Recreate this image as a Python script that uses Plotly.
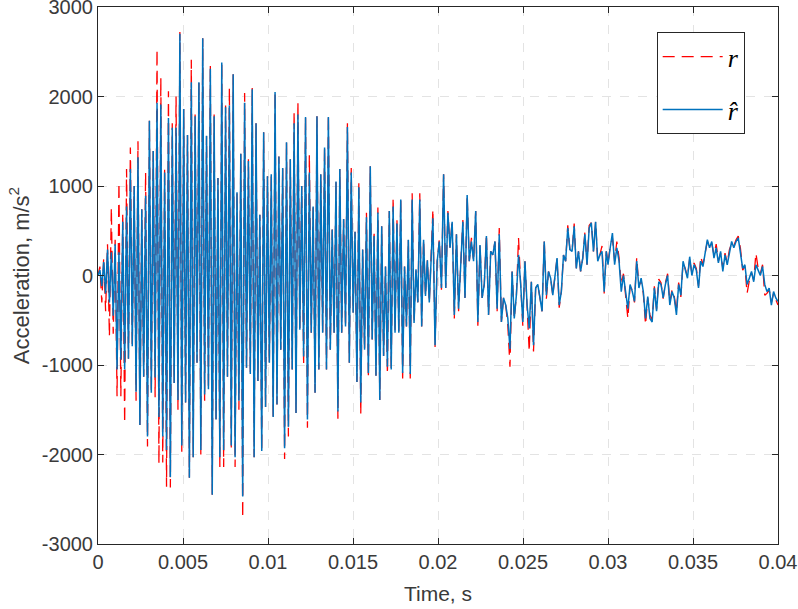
import numpy as np
import plotly.graph_objects as go

# ---------------- data ----------------
# Dense oscillating part: half-period sampling (peaks & troughs)
dt_dense = 0.000112
start_hat = [0, 60, -120, 150, -200]
start_r = [0, 100, -300, 200, -400]

peaks_hat = [290, 260, 350, 260, 600, 770, 1190, 1000, 1320, 740, 890, 1730, 1390, 1930, 1910,
             1150, 1760, 1650, 1650, 2700, 1860, 1570, 2160, 1780, 2160, 2650, 1560, 2310, 1780,
             1090, 2380, 1880, 1900, 2250, 930, 1360, 1930, 1280, 2080, 1700, 680, 1600, 1110,
             1130, 2050, 1330, 1200, 1490, 1300, 1700, 1800, 1000, 1770, 1150, 770, 1780, 1130,
             1430, 1770, 515, 1050, 1190, 630, 1660, 1150, 490, 985, 290, 650, 1220, 440, 705,
             550, 100, 720, 770, 580, 850, 100, 400, 850, 70, 850, 400, 170]
peaks_r = [350, 760, 400, 1040, 700, 1190, 1430, 1000, 1500, 740, 1150, 1730, 1390, 2530, 2210,
           1200, 2060, 1700, 2000, 2720, 1860, 1570, 2410, 1800, 2160, 2650, 1560, 2360, 1800,
           1090, 2380, 1900, 2100, 2250, 930, 1360, 2040, 1300, 2100, 1700, 680, 1600, 1110,
           1130, 2050, 1330, 1200, 1490, 1300, 1830, 1940, 1000, 1770, 1350, 770, 1780, 1130,
           1430, 1800, 515, 1050, 1190, 630, 1700, 1200, 490, 1050, 290, 700, 1220, 500, 760,
           550, 100, 720, 870, 640, 850, 100, 400, 920, 70, 920, 400, 170]
troughs_hat = [-300, -450, -1050, -940, -1050, -930, -790, -1300, -1670, -1130, -1800, -1310,
               -1140, -1580, -1800, -1950, -2250, -1200, -1390, -1900, -1420, -2260, -2030, -975,
               -1950, -1330, -1270, -2450, -1610, -2030, -1950, -1130, -1900, -2030, -1400, -2470,
               -1030, -1100, -2030, -1180, -1960, -1470, -975, -1580, -1440, -830, -1930, -1690,
               -1050, -1535, -605, -905, -1610, -640, -1310, -1050, -640, -1050, -830, -640, -1520,
               -640, -570, -975, -415, -1190, -1420, -830, -1090, -715, -1120, -1390, -900, -1020,
               -1050, -640, -640, -1090, -570, -1100, -530, -300, -570, -230, -300]
troughs_r = [-680, -650, -1350, -1350, -1650, -930, -790, -1400, -1670, -1130, -1910, -1310,
             -1360, -2100, -2090, -2360, -2370, -1200, -1500, -1970, -1420, -2260, -2030, -975,
             -2000, -1400, -1270, -2450, -1610, -2140, -2140, -1130, -1950, -2140, -1500, -2710,
             -1030, -1100, -2030, -1180, -1960, -1470, -975, -1580, -1440, -830, -2050, -1800,
             -1050, -1535, -605, -1000, -1700, -640, -1310, -1050, -640, -1050, -830, -640, -1600,
             -640, -570, -975, -415, -1190, -1550, -830, -1150, -715, -1120, -1390, -900, -1100,
             -1050, -640, -640, -1150, -570, -1150, -530, -300, -570, -230, -300]

# Slower tail, part A (0.0197 s .. 0.0299 s)
tailA_span = [0.0197, 0.0299]
tailA_hat = [640, -780, 160, 380, -140, 1130, -140, 700, 310, 600, -440, 460, -370, 120, 600,
             -250, 900, 160, 380, 160, 720, -520, 340, -250, -100, 440, -440, 270, 230, 380,
             -370, 460, -520, -250, -330, -480, -820, 45, -480, -220, 230, -100, -520, 160, -330,
             -590, -70, -780, -140, -100, -250, -400, 380, -220, 45, -30, -220, -30, 195, -330,
             -180, 230, 160, 530, 290, 270, 550, 80, 270, 45, 195, 460, 120, 530, 590, 270, 600,
             160, 230, 270, -180, 270]
tailA_r = [740, -800, 160, 400, -160, 1130, -140, 720, 310, 620, -480, 460, -400, 120, 620,
           -250, 900, 160, 420, 160, 720, -560, 340, -250, -100, 460, -440, 270, 230, 380,
           -400, 530, -520, -250, -330, -560, -1020, 45, -480, -220, 420, -100, -560, 160, -330,
           -850, -70, -850, -140, -100, -250, -400, 400, -260, 45, -30, -220, -30, 195, -360,
           -180, 230, 160, 560, 290, 270, 580, 80, 270, 45, 195, 480, 120, 560, 590, 270, 600,
           160, 230, 330, -200, 270]

# Slower tail, part B (0.0300 s .. 0.0400 s)
tailB_span = [0.0300, 0.0400]
tailB_hat = [120, 310, 475, 120, 310, 160, -180, 0, -180, -370, -100, -180, -290, 160, -140, -30,
             -180, -480, -235, -480, -520, -140, -400, -70, -100, -250, -100, 0, -330, -180, -250,
             -440, -100, -220, 160, 60, -30, 210, 0, 120, 60, -140, 160, 100, 230, 400, 310, 380,
             195, 310, 140, 270, 45, 230, 120, 270, 380, 310, 380, 420, 270, 80, 120, -100, -30,
             45, -70, 120, 60, 0, 100, -100, -180, -140, -330, -180, -250, -290]
tailB_r = [140, 330, 420, 160, 380, 200, -100, 20, -200, -480, -120, -160, -300, 200, -120, -60,
           -200, -550, -250, -440, -500, -120, -380, -40, -80, -260, -80, 20, -300, -160, -230,
           -400, -80, -240, 140, 80, -20, 190, 20, 140, 80, -120, 210, 120, 250, 380, 330, 360,
           230, 350, 160, 250, 80, 250, 140, 290, 360, 330, 400, 440, 300, 60, 100, -200, -60,
           30, -50, 250, 80, 20, 120, -220, -200, -160, -300, -200, -270, -330]

x_tickvals = [0, 0.005, 0.01, 0.015, 0.02, 0.025, 0.03, 0.035, 0.04]
x_ticktext = ["0", "0.005", "0.01", "0.015", "0.02", "0.025", "0.03", "0.035", "0.04"]
y_tickvals = [-3000, -2000, -1000, 0, 1000, 2000, 3000]
y_ticktext = ["-3000", "-2000", "-1000", "0", "1000", "2000", "3000"]


def build(start, peaks, troughs, tailA, tailB):
    dense = list(start)
    for p, q in zip(peaks, troughs):
        dense += [p, q]
    t1 = np.arange(len(dense)) * dt_dense
    t2 = np.linspace(tailA_span[0], tailA_span[1], len(tailA))
    t3 = np.linspace(tailB_span[0], tailB_span[1], len(tailB))
    t = np.concatenate([t1, t2, t3])
    v = np.concatenate([dense, tailA, tailB])
    return t, v


t_r, v_r = build(start_r, peaks_r, troughs_r, tailA_r, tailB_r)
t_h, v_h = build(start_hat, peaks_hat, troughs_hat, tailA_hat, tailB_hat)

AX = "#262626"
TXT = "#3a3a3a"

fig = go.Figure()
fig.add_trace(go.Scatter(x=t_r, y=v_r, mode="lines", name="<i>r</i>",
                         legendgroup="a",
                         line=dict(color="#FF0000", width=1.3, dash="12px,7px")))
fig.add_trace(go.Scatter(x=t_h, y=v_h, mode="lines", name="<i>r̂</i>",
                         legendgroup="b",
                         line=dict(color="#0072BD", width=1.5)))

axis_common = dict(
    showline=True, mirror="ticks", linecolor=AX, linewidth=1,
    ticks="inside", ticklen=6, tickcolor=AX,
    showgrid=True, gridcolor="#e3e3e3", griddash="dash", gridwidth=1,
    zeroline=False, ticklabeloverflow="allow", automargin=False,
    tickfont=dict(family="Liberation Sans, Arial, sans-serif", size=20, color=TXT),
)

fig.update_xaxes(range=[0, 0.04], tickvals=x_tickvals, ticktext=x_ticktext,
                 title=dict(text="Time, s", standoff=14,
                            font=dict(family="Liberation Sans, Arial, sans-serif", size=21, color=TXT)),
                 **axis_common)
fig.update_yaxes(range=[-3000, 3000], tickvals=y_tickvals, ticktext=y_ticktext,
                 title=dict(text="Acceleration, m/s<sup>2</sup>", standoff=6,
                            font=dict(family="Liberation Sans, Arial, sans-serif", size=22, color=TXT)),
                 **axis_common)

fig.update_layout(
    width=798, height=609,
    margin=dict(l=98, r=20, t=7, b=65),
    paper_bgcolor="white", plot_bgcolor="white",
    showlegend=True,
    legend=dict(x=0.951, y=0.953, xanchor="right", yanchor="top",
                bgcolor="white", bordercolor=AX, borderwidth=1,
                traceorder="grouped", tracegroupgap=16, itemwidth=60,
                font=dict(family="Liberation Serif, Times New Roman, serif", size=26, color="black")),
)

fig.write_html("out.html")
